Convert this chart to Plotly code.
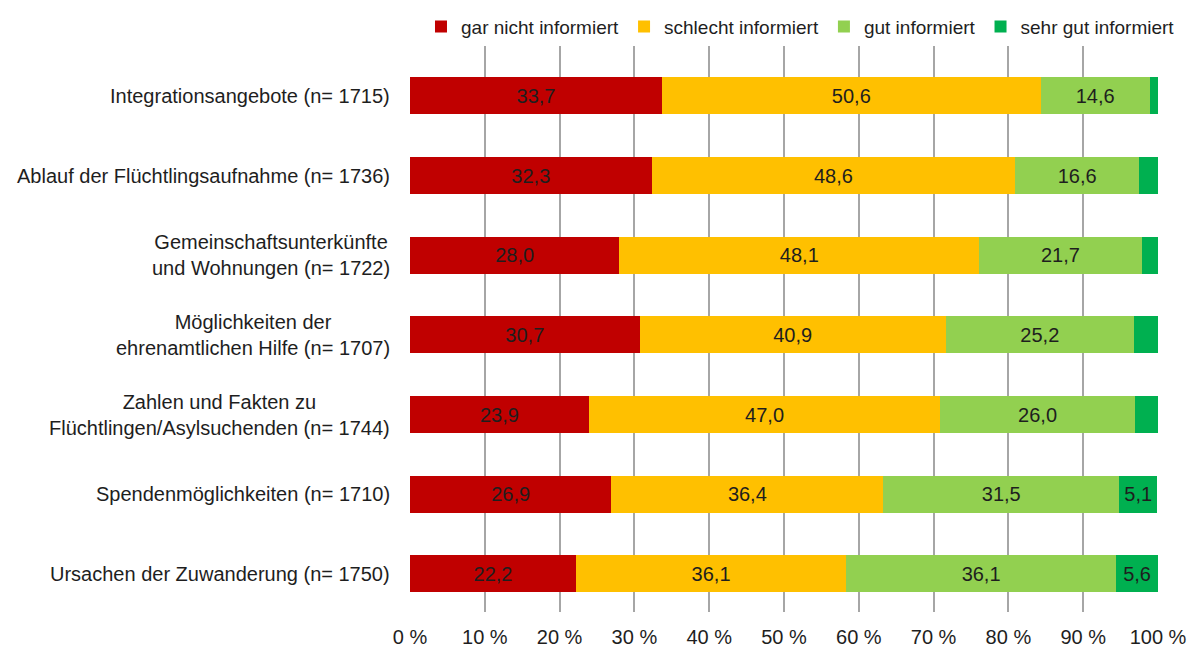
import plotly.graph_objects as go

categories = [
    "Integrationsangebote (n= 1715)",
    "Ablauf der Flüchtlingsaufnahme (n= 1736)",
    "Gemeinschaftsunterkünfte<br>und Wohnungen (n= 1722)",
    "Möglichkeiten der<br>ehrenamtlichen Hilfe (n= 1707)",
    "Zahlen und Fakten zu<br>Flüchtlingen/Asylsuchenden (n= 1744)",
    "Spendenmöglichkeiten (n= 1710)",
    "Ursachen der Zuwanderung (n= 1750)",
]
gar_nicht = [33.7, 32.3, 28.0, 30.7, 23.9, 26.9, 22.2]
schlecht = [50.6, 48.6, 48.1, 40.9, 47.0, 36.4, 36.1]
gut = [14.6, 16.6, 21.7, 25.2, 26.0, 31.5, 36.1]
sehr_gut = [1.1, 2.5, 2.2, 3.2, 3.1, 5.1, 5.6]

series_names = ["gar nicht informiert", "schlecht informiert", "gut informiert", "sehr gut informiert"]
series_values = [gar_nicht, schlecht, gut, sehr_gut]
colors = ["#C00000", "#FFC000", "#92D050", "#00B050"]

tick_vals = [0, 10, 20, 30, 40, 50, 60, 70, 80, 90, 100]
tick_text = [f"{v} %" for v in tick_vals]

FONT = "Liberation Sans"
TXT = "#1e1e1e"
FS = 20

def fmt(v):
    return f"{v:.1f}".replace(".", ",") if v >= 4 else ""

fig = go.Figure()
for name, vals, col in zip(series_names, series_values, colors):
    fig.add_trace(go.Bar(
        y=categories, x=vals, name=name, orientation="h",
        marker=dict(color=col, line=dict(width=0)),
        text=[fmt(v) for v in vals], textposition="inside",
        insidetextanchor="middle",
        textfont=dict(family=FONT, size=FS, color=TXT),
        width=0.465, hoverinfo="skip",
    ))

for cat in categories:
    fig.add_annotation(
        x=0, xref="paper", y=cat, yref="y", text=cat, showarrow=False,
        xanchor="right", xshift=-18, align="center",
        font=dict(family=FONT, size=FS, color=TXT),
    )

fig.update_layout(
    barmode="stack",
    width=1187, height=641,
    margin=dict(l=402, r=37, t=37, b=37, autoexpand=False),
    paper_bgcolor="white", plot_bgcolor="white",
    font=dict(family=FONT, size=FS, color=TXT),
    uniformtext=dict(minsize=10, mode="show"),
    legend=dict(
        orientation="h",
        x=1.0294, xanchor="right", y=1.066, yanchor="top",
        font=dict(family=FONT, size=19, color=TXT),
        itemwidth=30, traceorder="normal",
    ),
    xaxis=dict(
        range=[0, 100], tickvals=tick_vals, ticktext=tick_text,
        showgrid=True, gridcolor="#A6A6A6", gridwidth=1.5,
        zeroline=False, showline=False, ticks="",
        tickfont=dict(family=FONT, size=FS, color=TXT),
        ticklabelstandoff=11, automargin=False,
        fixedrange=True,
    ),
    yaxis=dict(
        categoryorder="array", categoryarray=categories,
        range=[6.48, -0.64], showticklabels=False, showgrid=False,
        zeroline=False, showline=False, ticks="", automargin=False,
    ),
)

fig.write_html("out.html")
